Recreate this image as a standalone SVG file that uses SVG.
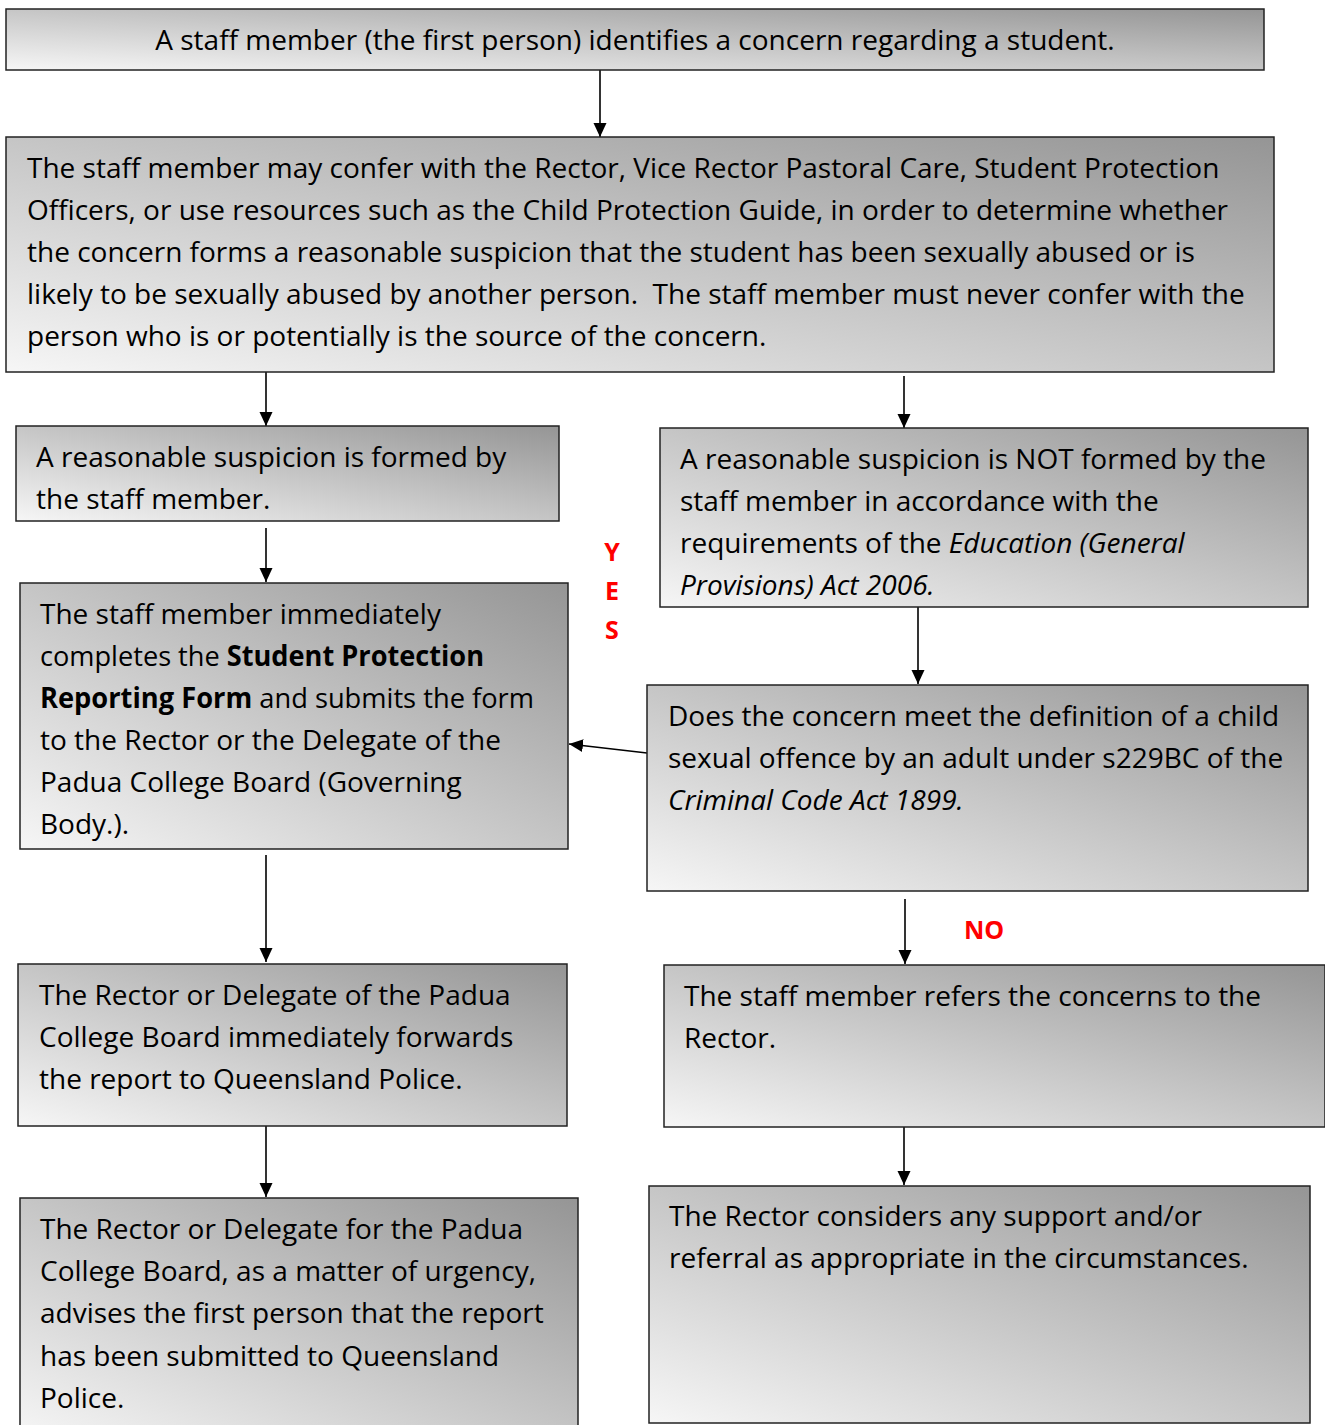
<svg xmlns="http://www.w3.org/2000/svg" width="1325" height="1425" viewBox="0 0 1325 1425">
<defs>
<linearGradient id="g" x1="0" y1="1" x2="1" y2="0">
<stop offset="0" stop-color="#f6f6f6"/>
<stop offset="1" stop-color="#959595"/>
</linearGradient>
<marker id="ah" markerUnits="userSpaceOnUse" markerWidth="14" markerHeight="14" viewBox="0 0 14 14" refX="14" refY="7" orient="auto">
<path d="M0,0.5 L14,7 L0,13.5 Z" fill="#000"/>
</marker>
<style>
.box{fill:url(#g);stroke:#222;stroke-width:1.5}
.t{font-family:"Open Sans","Noto Sans",sans-serif;font-size:28px;fill:#000}
.b{font-weight:bold}
.i{font-style:italic}
.lbl{font-family:"Open Sans","Noto Sans",sans-serif;font-size:25px;font-weight:bold;fill:#f00}
.c{stroke:#000;stroke-width:1.6;fill:none;marker-end:url(#ah)}
</style>
</defs>
<g id="connectors">
<line class="c" x1="600" y1="70" x2="600" y2="137"/>
<line class="c" x1="266" y1="372" x2="266" y2="426"/>
<line class="c" x1="904" y1="376" x2="904" y2="428"/>
<line class="c" x1="266" y1="528" x2="266" y2="582"/>
<line class="c" x1="918" y1="607" x2="918" y2="684"/>
<line class="c" x1="647" y1="753" x2="569" y2="744"/>
<line class="c" x1="266" y1="855" x2="266" y2="962"/>
<line class="c" x1="905" y1="899" x2="905" y2="964"/>
<line class="c" x1="266" y1="1126" x2="266" y2="1197"/>
<line class="c" x1="904" y1="1127" x2="904" y2="1185"/>
<g id="yes-label"><text class="lbl" x="612" y="561" text-anchor="middle">Y</text><text class="lbl" x="612" y="600" text-anchor="middle">E</text><text class="lbl" x="612" y="639" text-anchor="middle">S</text></g>
<g id="no-label"><text class="lbl" x="984" y="939" text-anchor="middle">NO</text></g>
</g>
<g id="n1"><rect class="box" x="6" y="9" width="1258" height="61"/>
<text class="t" x="635" y="50" text-anchor="middle">A staff member (the first person) identifies a concern regarding a student.</text></g>
<g id="n2"><rect class="box" x="6" y="137" width="1268" height="235"/>
<text class="t" x="27" y="178">The staff member may confer with the Rector, Vice Rector Pastoral Care, Student Protection</text>
<text class="t" x="27" y="220">Officers, or use resources such as the Child Protection Guide, in order to determine whether</text>
<text class="t" x="27" y="262">the concern forms a reasonable suspicion that the student has been sexually abused or is</text>
<text class="t" x="27" y="304" xml:space="preserve">likely to be sexually abused by another person.  The staff member must never confer with the</text>
<text class="t" x="27" y="346">person who is or potentially is the source of the concern.</text></g>
<g id="n3"><rect class="box" x="16" y="426" width="543" height="95"/>
<text class="t" x="36" y="467">A reasonable suspicion is formed by</text>
<text class="t" x="36" y="509">the staff member.</text></g>
<g id="n4"><rect class="box" x="660" y="428" width="648" height="179"/>
<text class="t" x="680" y="469">A reasonable suspicion is NOT formed by the</text>
<text class="t" x="680" y="511">staff member in accordance with the</text>
<text class="t" x="680" y="553">requirements of the <tspan class="i">Education (General</tspan></text>
<text class="t i" x="680" y="595">Provisions) Act 2006.</text></g>
<g id="n5"><rect class="box" x="20" y="583" width="548" height="266"/>
<text class="t" x="40" y="624">The staff member immediately</text>
<text class="t" x="40" y="666" textLength="444" lengthAdjust="spacingAndGlyphs">completes the <tspan class="b">Student Protection</tspan></text>
<text class="t" x="40" y="708" textLength="494" lengthAdjust="spacingAndGlyphs"><tspan class="b">Reporting Form</tspan> and submits the form</text>
<text class="t" x="40" y="750">to the Rector or the Delegate of the</text>
<text class="t" x="40" y="792">Padua College Board (Governing</text>
<text class="t" x="40" y="834">Body.).</text></g>
<g id="n6"><rect class="box" x="647" y="685" width="661" height="206"/>
<text class="t" x="668" y="726">Does the concern meet the definition of a child</text>
<text class="t" x="668" y="768">sexual offence by an adult under s229BC of the</text>
<text class="t i" x="668" y="810">Criminal Code Act 1899.</text></g>
<g id="n7"><rect class="box" x="18" y="964" width="549" height="162"/>
<text class="t" x="39" y="1005">The Rector or Delegate of the Padua</text>
<text class="t" x="39" y="1047">College Board immediately forwards</text>
<text class="t" x="39" y="1089">the report to Queensland Police.</text></g>
<g id="n8"><rect class="box" x="664" y="965" width="661" height="162"/>
<text class="t" x="684" y="1006">The staff member refers the concerns to the</text>
<text class="t" x="684" y="1048">Rector.</text></g>
<g id="n9"><rect class="box" x="20" y="1198" width="558" height="240"/>
<text class="t" x="40" y="1239">The Rector or Delegate for the Padua</text>
<text class="t" x="40" y="1281">College Board, as a matter of urgency,</text>
<text class="t" x="40" y="1323">advises the first person that the report</text>
<text class="t" x="40" y="1366">has been submitted to Queensland</text>
<text class="t" x="40" y="1408">Police.</text></g>
<g id="n10"><rect class="box" x="649" y="1186" width="661" height="237"/>
<text class="t" x="669" y="1226">The Rector considers any support and/or</text>
<text class="t" x="669" y="1268">referral as appropriate in the circumstances.</text></g>
</svg>
